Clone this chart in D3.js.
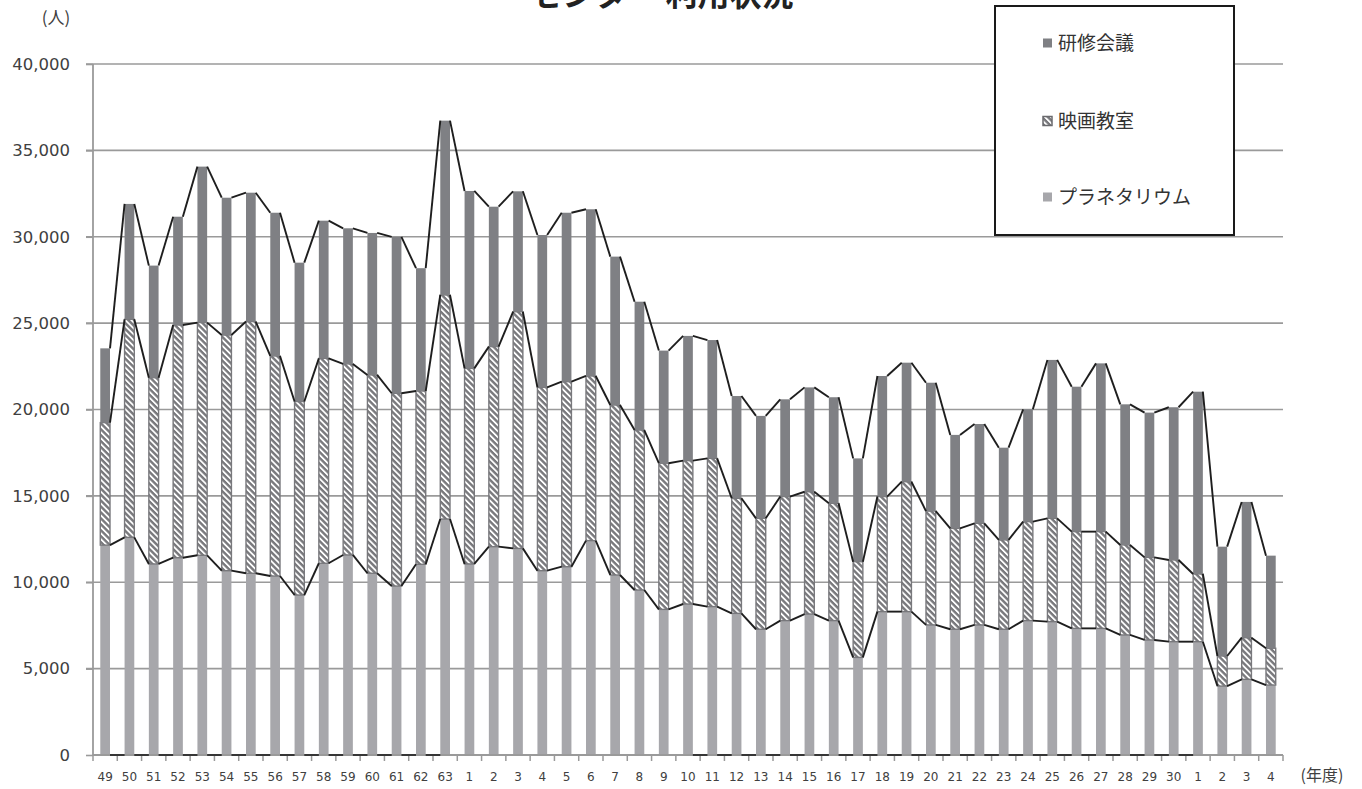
<!DOCTYPE html>
<html><head><meta charset="utf-8">
<script src="https://cdn.jsdelivr.net/npm/d3@7"></script>
<style>
html,body{margin:0;padding:0;background:#fff;}
svg{display:block;}
</style></head>
<body>
<svg id="chart" width="1362" height="789"></svg>
<script>
// ---- data ----
const categories = ["49","50","51","52","53","54","55","56","57","58","59","60","61","62","63",
  "1","2","3","4","5","6","7","8","9","10","11","12","13","14","15","16","17","18","19","20",
  "21","22","23","24","25","26","27","28","29","30","1","2","3","4"];
const planetarium = [12150,12600,11060,11420,11560,10670,10520,10360,9260,11100,11580,10520,9780,11040,13660,
  11060,12060,11960,10670,10900,12410,10420,9550,8430,8740,8590,8200,7280,7780,8160,7780,5650,8300,8300,7530,
  7280,7530,7280,7780,7720,7330,7330,6950,6660,6560,6560,3990,4380,4050];
const eigaKyoshitsu = [7090,12620,10780,13470,13470,13640,14570,12740,11200,11860,11060,11480,11160,10030,12970,
  11320,11580,13700,10610,10710,9530,9840,9260,8460,8300,8580,6660,6420,7180,7080,6790,5540,6660,7520,6590,
  5840,5880,5170,5730,5980,5600,5600,5210,4780,4730,3920,1740,2410,2130];
const kenshuKaigi = [4300,6680,6490,6270,9030,7950,7460,8290,8040,7970,7850,8220,9050,7110,10090,
  10270,8100,6970,8820,9780,9650,8590,7430,6520,7220,6850,5920,5930,5630,6040,6140,5980,6980,6890,7430,
  5410,5750,5340,6500,9170,8390,9740,8140,8380,8840,10550,6330,7860,5360];
const seriesNames = ["プラネタリウム","映画教室","研修会議"];
const yTicks = [0,5000,10000,15000,20000,25000,30000,35000,40000];
const titleText = "センター 利用状況";
const yUnit = "(人)";
const xUnit = "(年度)";

// ---- layout ----
const svg = d3.select("#chart");
const X0 = 93, X1 = 1283, Y0 = 755, Y1 = 64;
const keys = ["pl","eg","kk"];
const rows = categories.map((c,i)=>({i, cat:c, pl:planetarium[i], eg:eigaKyoshitsu[i], kk:kenshuKaigi[i]}));
const stacked = d3.stack().keys(keys)(rows);

const x = d3.scaleBand().domain(d3.range(categories.length)).range([X0,X1]).paddingInner(0.6).paddingOuter(0.3);
const y = d3.scaleLinear().domain([0,40000]).range([Y0,Y1]);

const defs = svg.append("defs");
const pat = defs.append("pattern").attr("id","hatch").attr("patternUnits","userSpaceOnUse")
  .attr("width",4.2).attr("height",4.2).attr("patternTransform","rotate(-45)");
pat.append("rect").attr("width",4.2).attr("height",4.2).attr("fill","#78787c");
pat.append("rect").attr("x",0).attr("y",0).attr("width",1.8).attr("height",4.2).attr("fill","#ffffff");

const fillFor = {pl:"#a7a7ab", eg:"url(#hatch)", kk:"#7f8084"};

// gridlines
const gridG = svg.append("g");
gridG.selectAll("line.grid").data(yTicks.slice(1)).join("line")
  .attr("x1",X0-7).attr("x2",X1).attr("y1",d=>y(d)).attr("y2",d=>y(d))
  .attr("stroke","#9a9a9a").attr("stroke-width",1.6);

// y axis
const yAxis = d3.axisLeft(y).tickValues(yTicks).tickSize(7).tickPadding(16)
  .tickFormat(d=>d3.format(",")(d));
const yg = svg.append("g").attr("transform",`translate(${X0},0)`).call(yAxis);
yg.select(".domain").attr("stroke","#9a9a9a").attr("stroke-width",1.8).attr("d",`M0,${Y0}V${Y1}`);
yg.selectAll(".tick line").attr("stroke","#9a9a9a").attr("stroke-width",1.6);
yg.selectAll(".tick text").attr("font-family","'DejaVu Sans', Verdana, sans-serif")
  .attr("font-size",16.5).attr("fill","#404040");

// bars
const barG = svg.append("g");
stacked.forEach(s=>{
  barG.selectAll(null).data(s).join("rect")
    .attr("x",(d,i)=>x(i)).attr("width",x.bandwidth())
    .attr("y",d=>y(d[1])).attr("height",d=>Math.max(0,y(d[0])-y(d[1])))
    .attr("fill",fillFor[s.key])
    .attr("stroke", s.key==="eg" ? "#78787c" : "none")
    .attr("stroke-width", s.key==="eg" ? 1.4 : 0);
});

// x axis
const xg = svg.append("g").attr("transform",`translate(0,${Y0})`);
xg.append("line").attr("x1",X0).attr("x2",X1).attr("y1",0).attr("y2",0)
  .attr("stroke","#9a9a9a").attr("stroke-width",1.8);
xg.selectAll("line.tk").data(d3.range(categories.length+1)).join("line")
  .attr("x1",i=>X0 + i*(X1-X0)/categories.length).attr("x2",i=>X0 + i*(X1-X0)/categories.length)
  .attr("y1",0).attr("y2",6).attr("stroke","#9a9a9a").attr("stroke-width",1.5);
xg.selectAll("text").data(categories).join("text")
  .attr("x",(d,i)=>x(i)+x.bandwidth()/2).attr("y",26)
  .attr("text-anchor","middle").attr("font-family","'DejaVu Sans', Verdana, sans-serif")
  .attr("font-size",12).attr("fill","#404040").text(d=>d);

// series lines (connect right edge of bar i to left edge of bar i+1 at each cumulative level)
const lineG = svg.append("g");
stacked.forEach(s=>{
  const segs = d3.range(categories.length-1).map(i=>[
    [x(i)+x.bandwidth(), y(s[i][1])],[x(i+1), y(s[i+1][1])]]);
  lineG.selectAll(null).data(segs).join("line")
    .attr("x1",d=>d[0][0]).attr("y1",d=>d[0][1]).attr("x2",d=>d[1][0]).attr("y2",d=>d[1][1])
    .attr("stroke","#1e1e1e").attr("stroke-width",1.9);
});
// base level series line (visible in parts of the original)
const baseRanges = [[0,13],[24,44]];
baseRanges.forEach(([a,b])=>{
  lineG.selectAll(null).data(d3.range(a,b+1)).join("line")
    .attr("x1",i=>x(i)+x.bandwidth()).attr("x2",i=>x(i+1))
    .attr("y1",y(0)).attr("y2",y(0)).attr("stroke","#1e1e1e").attr("stroke-width",1.6);
});

// title (top clipped as in original)
svg.append("text").attr("x",662).attr("y",6).attr("text-anchor","middle")
  .attr("font-family","'Noto Sans CJK JP', sans-serif").attr("font-weight","bold")
  .attr("font-size",32).attr("fill","#222").text(titleText);

// unit labels
svg.append("text").attr("x",56).attr("y",24).attr("text-anchor","middle")
  .attr("font-family","'Noto Sans CJK JP', sans-serif").attr("font-size",17).attr("fill","#404040").text(yUnit);
svg.append("text").attr("x",1322).attr("y",781).attr("text-anchor","middle")
  .attr("font-family","'Noto Sans CJK JP', sans-serif").attr("font-size",16).attr("fill","#404040").text(xUnit);

// legend
const lg = svg.append("g");
lg.append("rect").attr("x",995).attr("y",6).attr("width",239).attr("height",229)
  .attr("fill","#fff").attr("stroke","#1a1a1a").attr("stroke-width",2);
const legendItems = [
  {name:seriesNames[2], key:"kk", cy:43},
  {name:seriesNames[1], key:"eg", cy:121},
  {name:seriesNames[0], key:"pl", cy:197}
];
legendItems.forEach(it=>{
  lg.append("rect").attr("x",1043).attr("y",it.cy-4.5).attr("width",9).attr("height",9)
    .attr("fill",fillFor[it.key])
    .attr("stroke", it.key==="eg" ? "#6a6a6e" : "none").attr("stroke-width",1.5);
  lg.append("text").attr("x",1058).attr("y",it.cy).attr("dy","0.36em")
    .attr("font-family","'Noto Sans CJK JP', sans-serif").attr("font-size",19)
    .attr("fill","#333").text(it.name);
});
</script>
</body></html>
